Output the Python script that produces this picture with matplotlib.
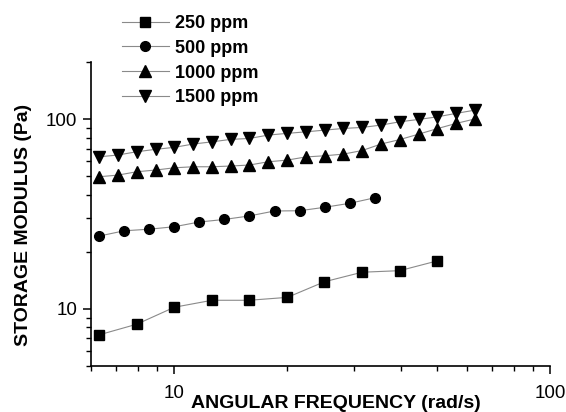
import numpy as np
import matplotlib
matplotlib.use("Agg")
import matplotlib.pyplot as plt
from matplotlib.ticker import NullFormatter, LogLocator, FixedLocator, FixedFormatter

plt.rcParams['font.family'] = ['Liberation Sans', 'DejaVu Sans']

# Data
freq_250 = [6.31, 7.94, 10.0, 12.6, 15.8, 20.0, 25.1, 31.6, 39.8, 50.1]
g_250 = [7.3, 8.3, 10.2, 11.1, 11.1, 11.5, 13.9, 15.6, 15.9, 17.9]

freq_500 = [6.31, 7.36, 8.58, 10.0, 11.66, 13.59, 15.85, 18.48, 21.54, 25.12, 29.29, 34.15]
g_500 = [24.2, 25.8, 26.3, 27.1, 28.7, 29.6, 30.9, 32.8, 32.9, 34.3, 36.0, 38.5]

freq_tri = [6.31, 7.08, 7.94, 8.91, 10.0, 11.22, 12.59, 14.13, 15.85, 17.78, 19.95,
            22.39, 25.12, 28.18, 31.62, 35.48, 39.81, 44.67, 50.12, 56.23, 63.10]
g_1000 = [49.7, 50.7, 52.8, 53.9, 55.4, 56.1, 56.1, 56.6, 57.3, 59.6, 60.8,
          63.2, 64.1, 65.4, 68.3, 73.9, 78.0, 83.3, 89.1, 94.9, 100.2]
g_1500 = [63.3, 64.7, 67.3, 69.3, 71.0, 73.9, 75.9, 78.2, 79.1, 82.4, 84.1,
          85.7, 87.5, 89.3, 90.4, 93.0, 96.8, 99.6, 102.8, 107.2, 111.5]

labels = ["250 ppm", "500 ppm", "1000 ppm", "1500 ppm"]
x_ticks = [10, 100]
y_ticks = [10, 100]

fig = plt.figure(figsize=(5.66, 4.12), dpi=100)
ax = fig.add_axes([91/566, 1 - 366/412, (550 - 91)/566, (366 - 62)/412])

line_kw = dict(color='#8a8a8a', lw=0.8, mfc='black', mec='black')
ax.plot(freq_250, g_250, marker='s', ms=6.5, label=labels[0], **line_kw)
ax.plot(freq_500, g_500, marker='o', ms=7, label=labels[1], **line_kw)
ax.plot(freq_tri, g_1000, marker='^', ms=8.5, label=labels[2], **line_kw)
ax.plot(freq_tri, g_1500, marker='v', ms=8.5, label=labels[3], **line_kw)

ax.set_xscale('log')
ax.set_yscale('log')
ax.set_xlim(6, 100)
ax.set_ylim(5, 200)

ax.xaxis.set_major_locator(FixedLocator(x_ticks))
ax.xaxis.set_major_formatter(FixedFormatter([str(t) for t in x_ticks]))
ax.yaxis.set_major_locator(FixedLocator(y_ticks))
ax.yaxis.set_major_formatter(FixedFormatter([str(t) for t in y_ticks]))
ax.xaxis.set_minor_locator(LogLocator(base=10, subs=np.arange(2, 10)))
ax.yaxis.set_minor_locator(LogLocator(base=10, subs=np.arange(2, 10)))
ax.xaxis.set_minor_formatter(NullFormatter())
ax.yaxis.set_minor_formatter(NullFormatter())

for s in ['top', 'right']:
    ax.spines[s].set_visible(False)
for s in ['left', 'bottom']:
    ax.spines[s].set_linewidth(1.2)

ax.tick_params(which='major', direction='out', length=6, width=1.1, labelsize=13.5, pad=3)
ax.tick_params(which='minor', direction='out', length=3.5, width=1.0)
ax.tick_params(axis='x', which='major', pad=8)
ax.tick_params(axis='y', which='major', pad=4)

ax.set_xlabel("ANGULAR FREQUENCY (rad/s)", fontsize=14, fontweight='bold')
ax.set_ylabel("STORAGE MODULUS (Pa)", fontsize=14, fontweight='bold')
ax.xaxis.set_label_coords((336 - 91)/459, -0.095)
ax.yaxis.set_label_coords(-0.128, 0.464)

leg = ax.legend(loc='upper left', bbox_to_anchor=(122/566, 1 - 15/412),
                bbox_transform=fig.transFigure, frameon=False,
                prop={'weight': 'bold', 'size': 13},
                handlelength=2.6, handletextpad=0.35, labelspacing=0.43,
                borderpad=0, borderaxespad=0)

fig.savefig("out.png", dpi=100)
